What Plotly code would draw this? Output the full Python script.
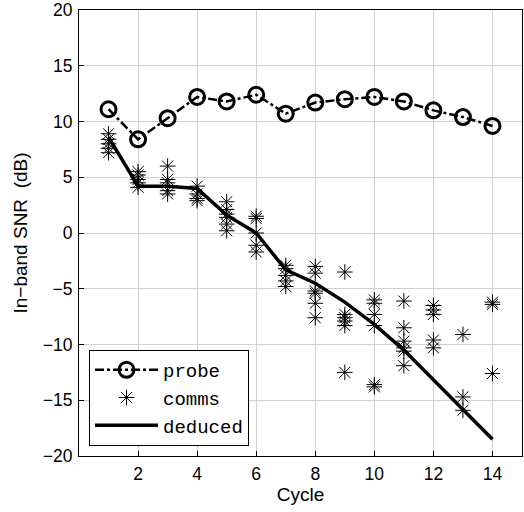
import plotly.graph_objects as go

cycles = list(range(1, 15))
probe = [11.1, 8.4, 10.3, 12.2, 11.8, 12.4, 10.7, 11.7, 12.0, 12.2, 11.8, 11.0, 10.4, 9.6]
deduced = [8.6, 4.2, 4.2, 4.0, 1.6, 0.0, -3.3, -4.5, -6.2, -8.2, -10.5, -13.2, -15.9, -18.5]

comms_by_cycle = {
    1: [8.9, 8.4, 8.0, 7.6, 7.2],
    2: [5.5, 5.2, 4.8, 4.5, 4.1],
    3: [6.0, 4.8, 4.5, 3.8, 3.5],
    4: [4.2, 3.5, 3.1, 2.9],
    5: [2.8, 2.1, 1.7, 1.4, 0.8, 0.2],
    6: [1.5, 1.3, 0.0, -1.1, -1.7],
    7: [-2.9, -3.2, -3.8, -4.3, -4.8],
    8: [-3.0, -3.6, -5.2, -5.4, -6.3, -7.6],
    9: [-3.5, -7.3, -7.6, -7.9, -8.3, -12.5],
    10: [-6.0, -6.3, -7.3, -8.3, -13.6, -13.8],
    11: [-6.1, -8.5, -9.7, -10.3, -10.6, -11.9],
    12: [-6.5, -6.9, -7.3, -9.6, -10.3],
    13: [-9.1, -14.7, -15.9],
    14: [-6.2, -6.4, -12.6],
}
comms_x = [c for c, vs in comms_by_cycle.items() for _ in vs]
comms_y = [v for vs in comms_by_cycle.values() for v in vs]

x_ticks = [2, 4, 6, 8, 10, 12, 14]
y_ticks = [-20, -15, -10, -5, 0, 5, 10, 15, 20]

fig = go.Figure()
fig.add_trace(go.Scatter(
    x=cycles, y=probe, name="probe", mode="lines+markers",
    line=dict(color="black", width=2.5, dash="dashdot"),
    marker=dict(symbol="circle-open", size=15, color="black", line=dict(width=3)),
))
fig.add_trace(go.Scatter(
    x=comms_x, y=comms_y, name="comms", mode="markers",
    marker=dict(symbol="asterisk-open", size=13, color="black", line=dict(width=1, color="black")),
))
fig.add_trace(go.Scatter(
    x=cycles, y=deduced, name="deduced", mode="lines",
    line=dict(color="black", width=3.5),
))

tick_font = dict(family="Liberation Sans, Arial", size=17.5, color="black")
title_font = dict(family="Liberation Sans, Arial", size=19, color="black")
axis_common = dict(
    showgrid=True, gridcolor="#d0d0d0", gridwidth=1,
    showline=True, linecolor="black", linewidth=1, mirror=True,
    ticks="inside", ticklen=5, tickcolor="black",
    tickfont=tick_font, zeroline=False, automargin=False,
)
fig.update_xaxes(range=[0, 15], tickvals=x_ticks, ticklabelstandoff=2,
                 title=dict(text="Cycle", font=title_font, standoff=4),
                 **axis_common)
fig.update_yaxes(range=[-20, 20], tickvals=y_ticks, ticklabelstandoff=2,
                 title=dict(text="In\u2212band SNR  (dB)", font=title_font, standoff=10),
                 **axis_common)

fig.update_layout(
    width=524, height=512,
    margin=dict(l=79, r=2, t=10, b=56),
    plot_bgcolor="white", paper_bgcolor="white",
    legend=dict(
        x=0.0226, y=0.2377, xanchor="left", yanchor="top",
        bgcolor="white", bordercolor="black", borderwidth=1,
        font=dict(family="Liberation Mono, Courier New", size=19, color="black"),
        itemwidth=63, tracegroupgap=0,
    ),
    showlegend=True,
)

fig.write_html("out.html", config={"displayModeBar": False},
               post_script="document.body.style.margin='0';")
